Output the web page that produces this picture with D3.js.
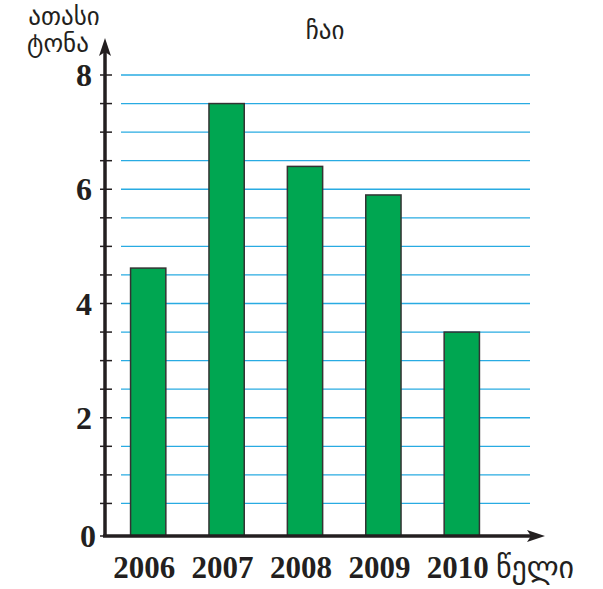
<!DOCTYPE html>
<html><head><meta charset="utf-8">
<script src="https://cdn.jsdelivr.net/npm/d3@7"></script>
<style>body{margin:0;background:#fff}svg{display:block}</style>
</head><body>
<script>
const years = ["2006","2007","2008","2009","2010"];
const values = [4.62, 7.5, 6.4, 5.9, 3.5];
const yTickLabels = [0, 2, 4, 6, 8];
const gridValues = [0.5,1,1.5,2,2.5,3,3.5,4,4.5,5,5.5,6,6.5,7,7.5,8];
const title = "ჩაი";
const yTitle = ["ათასი","ტონა"];
const xTitle = "წელი";

const W = 603, H = 589;
const svg = d3.select("body").append("svg").attr("width", W).attr("height", H);
const geo = "'DejaVu Sans','Noto Sans',sans-serif";
const num = "'Liberation Serif','Times New Roman',serif";

const y = d3.scaleLinear().domain([0, 8]).range([532, 75]);
const x = d3.scaleBand().domain(years).range([109, 501]).paddingInner(0.55).paddingOuter(0.275);
const axisX = 105, axisY = 536;

// gridlines
svg.append("g").selectAll("line").data(gridValues).join("line")
  .attr("x1", 121).attr("x2", 530)
  .attr("y1", d => y(d)).attr("y2", d => y(d))
  .attr("stroke", "#29abe2").attr("stroke-width", 1.3);

// bars
svg.append("g").selectAll("rect").data(values).join("rect")
  .attr("x", (d, i) => x(years[i]))
  .attr("y", d => y(d))
  .attr("width", x.bandwidth())
  .attr("height", d => axisY - y(d))
  .attr("fill", "#00a651").attr("stroke", "#333").attr("stroke-width", 1.5);

// y axis ticks
svg.append("g").selectAll("line").data([0].concat(gridValues)).join("line")
  .attr("x1", axisX - 5).attr("x2", axisX + 7)
  .attr("y1", d => d === 0 ? axisY : y(d)).attr("y2", d => d === 0 ? axisY : y(d))
  .attr("stroke", "#231f20").attr("stroke-width", 1.5);

// axes lines
svg.append("line").attr("x1", axisX).attr("x2", axisX).attr("y1", axisY + 1).attr("y2", 50)
  .attr("stroke", "#231f20").attr("stroke-width", 3.5);
svg.append("path").attr("d", `M${axisX},38 L${axisX-6},56 L${axisX},52 L${axisX+6},56 Z`).attr("fill", "#231f20");
svg.append("line").attr("x1", axisX - 2).attr("x2", 532).attr("y1", axisY).attr("y2", axisY)
  .attr("stroke", "#231f20").attr("stroke-width", 3.5);
svg.append("path").attr("d", `M545,${axisY} L527,${axisY-6} L531,${axisY} L527,${axisY+6} Z`).attr("fill", "#231f20");

// y tick labels
svg.append("g").selectAll("text").data(yTickLabels).join("text")
  .attr("x", d => d === 0 ? 96 : 92)
  .attr("y", d => d === 0 ? axisY : y(d))
  .attr("dy", "0.35em")
  .attr("text-anchor", "end")
  .attr("font-family", num).attr("font-weight", "bold").attr("font-size", 32)
  .attr("fill", "#231f20")
  .text(d => d);

// x labels
svg.append("g").selectAll("text").data(years).join("text")
  .attr("x", d => x(d) + x.bandwidth() / 2 - 4)
  .attr("y", 578)
  .attr("text-anchor", "middle")
  .attr("font-family", num).attr("font-weight", "bold").attr("font-size", 31)
  .attr("fill", "#231f20")
  .text(d => d);

svg.append("text").attr("x", 535).attr("y", 578).attr("text-anchor", "middle")
  .attr("font-family", geo).attr("font-size", 30).attr("fill", "#231f20").text(xTitle);

svg.append("text").attr("x", 325).attr("y", 39).attr("text-anchor", "middle")
  .attr("font-family", geo).attr("font-size", 25).attr("fill", "#231f20").text(title);

svg.append("text").attr("x", 64).attr("y", 25).attr("text-anchor", "middle")
  .attr("font-family", geo).attr("font-size", 25).attr("fill", "#231f20").text(yTitle[0]);
svg.append("text").attr("x", 58).attr("y", 52).attr("text-anchor", "middle")
  .attr("font-family", geo).attr("font-size", 25).attr("fill", "#231f20").text(yTitle[1]);
</script>
</body></html>
